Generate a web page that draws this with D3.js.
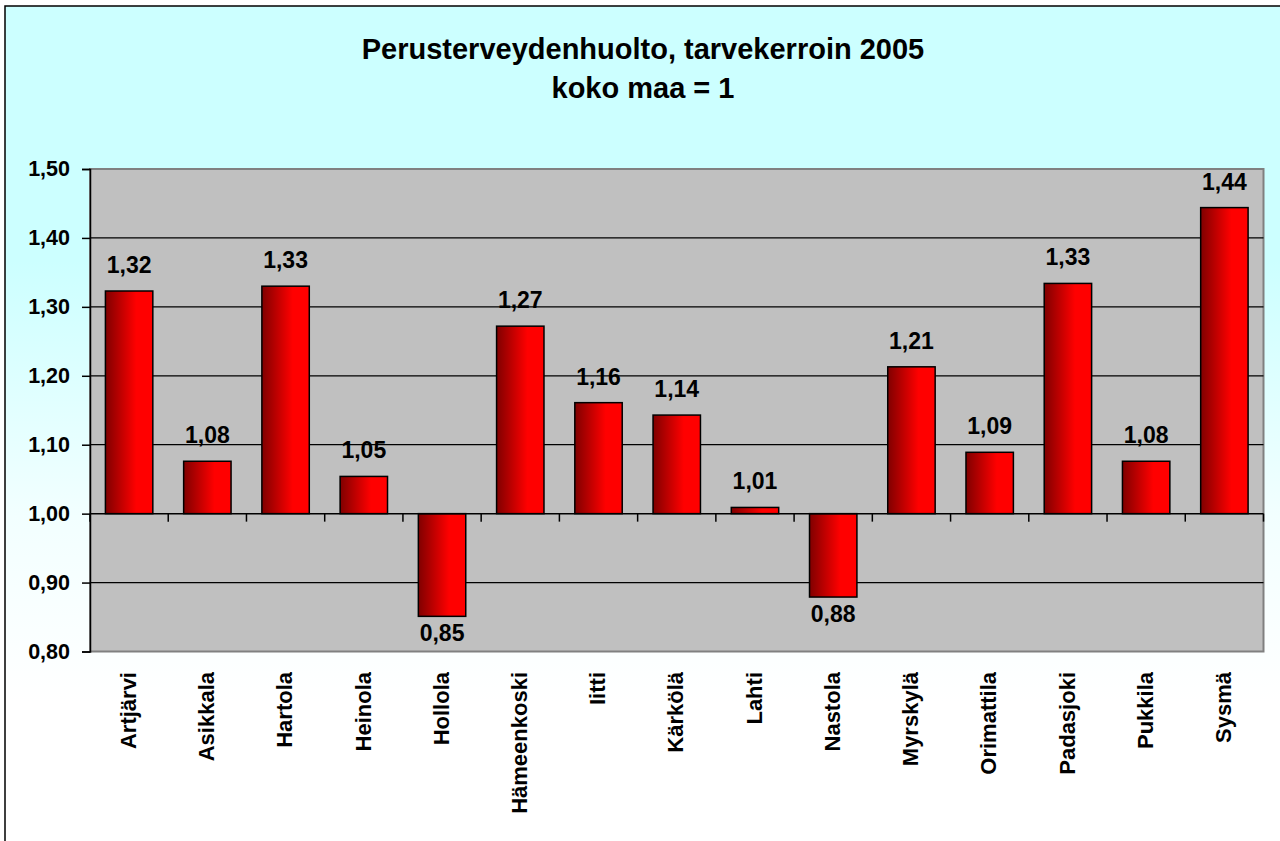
<!DOCTYPE html>
<html>
<head>
<meta charset="utf-8">
<script src="https://cdn.jsdelivr.net/npm/d3@7"></script>
<style>
html,body{margin:0;padding:0;background:#fff;}
svg{display:block;}
text{font-family:"Liberation Sans", Arial, sans-serif;font-weight:bold;fill:#000;}
</style>
</head>
<body>
<svg id="chart" width="1280" height="841"></svg>
<script>
const titleLines = ["Perusterveydenhuolto, tarvekerroin 2005", "koko maa = 1"];
const categories = ["Artjärvi","Asikkala","Hartola","Heinola","Hollola","Hämeenkoski","Iitti","Kärkölä","Lahti","Nastola","Myrskylä","Orimattila","Padasjoki","Pukkila","Sysmä"];
const values = [1.323, 1.076, 1.330, 1.054, 0.851, 1.272, 1.161, 1.143, 1.009, 0.879, 1.213, 1.089, 1.334, 1.076, 1.444];
const yTicks = [0.80, 0.90, 1.00, 1.10, 1.20, 1.30, 1.40, 1.50];
const baseline = 1.00;

(function(){
const svg = d3.select("#chart");
const defs = svg.append("defs");

const bg = defs.append("linearGradient").attr("id","bg").attr("x1",0).attr("y1",0).attr("x2",0).attr("y2",1);
bg.append("stop").attr("offset","0%").attr("stop-color","#CCFFFF");
bg.append("stop").attr("offset","30%").attr("stop-color","#CCFFFF");
bg.append("stop").attr("offset","60%").attr("stop-color","#F2FFFF");
bg.append("stop").attr("offset","82%").attr("stop-color","#FFFFFF");
bg.append("stop").attr("offset","100%").attr("stop-color","#FFFFFF");

const barG = defs.append("linearGradient").attr("id","barG").attr("x1",0).attr("y1",0).attr("x2",1).attr("y2",0);
barG.append("stop").attr("offset","0%").attr("stop-color","#800000");
barG.append("stop").attr("offset","65%").attr("stop-color","#FF0000");
barG.append("stop").attr("offset","100%").attr("stop-color","#FF0000");

// chart area
svg.append("rect").attr("x",5).attr("y",6).attr("width",1290).attr("height",850)
  .attr("fill","url(#bg)").attr("stroke","#000").attr("stroke-width",1.5);

// title
svg.append("text").attr("x",643).attr("y",59).attr("text-anchor","middle").style("font-size","29px").text(titleLines[0]);
svg.append("text").attr("x",643).attr("y",98).attr("text-anchor","middle").style("font-size","29px").text(titleLines[1]);

const pL = 90, pR = 1263.5, pT = 169, pB = 651.5;
const x = d3.scaleBand().domain(categories).range([pL, pR]).paddingInner(0.394).paddingOuter(0.197);
const y = d3.scaleLinear().domain([0.80, 1.50]).range([pB, pT]);

// plot area
svg.append("rect").attr("x",pL).attr("y",pT).attr("width",pR-pL).attr("height",pB-pT)
  .attr("fill","#C0C0C0").attr("stroke","#808080").attr("stroke-width",2);

// gridlines
svg.append("g").selectAll("line").data(yTicks.filter(t => t > 0.8 && t < 1.5 && t !== baseline)).join("line")
  .attr("x1",pL).attr("x2",pR).attr("y1",d=>y(d)).attr("y2",d=>y(d))
  .attr("stroke","#000").attr("stroke-width",1.2);

// y axis
const fmt = d => d3.format(".2f")(d).replace(".", ",");
const yAxis = svg.append("g").attr("transform",`translate(${pL},0)`)
  .call(d3.axisLeft(y).tickValues(yTicks).tickFormat(fmt).tickSize(8).tickPadding(12));
yAxis.select(".domain").attr("stroke","#000").attr("stroke-width",1.5);
yAxis.selectAll(".tick line").attr("stroke","#000").attr("stroke-width",1.5);
yAxis.selectAll(".tick text").style("font-size","21.5px").style("font-family","'Liberation Sans', Arial, sans-serif").style("font-weight","bold").attr("fill","#000");

// bars
svg.append("g").selectAll("rect").data(categories).join("rect")
  .attr("x",(d)=>x(d)).attr("width",x.bandwidth())
  .attr("y",(d,i)=>y(Math.max(values[i],baseline)))
  .attr("height",(d,i)=>Math.abs(y(values[i])-y(baseline)))
  .attr("fill","url(#barG)").attr("stroke","#000").attr("stroke-width",1.5);

// category axis at baseline
const step = x.step();
const bounds = d3.range(categories.length + 1).map(i => pL + i*step);
svg.append("line").attr("x1",pL).attr("x2",pR).attr("y1",y(baseline)).attr("y2",y(baseline))
  .attr("stroke","#000").attr("stroke-width",1.5);
svg.append("g").selectAll("line").data(bounds).join("line")
  .attr("x1",d=>d).attr("x2",d=>d).attr("y1",y(baseline)).attr("y2",y(baseline)+8)
  .attr("stroke","#000").attr("stroke-width",1.5);

// value labels
svg.append("g").selectAll("text").data(categories).join("text")
  .attr("x",d=>x(d)+x.bandwidth()/2)
  .attr("y",(d,i)=> values[i] >= baseline ? y(values[i]) - 18 : y(values[i]) + 25)
  .attr("text-anchor","middle").style("font-size","23px")
  .text((d,i)=>fmt(values[i]));

// category labels
svg.append("g").selectAll("text").data(categories).join("text")
  .attr("transform",d=>`translate(${x(d)+x.bandwidth()/2 - 1},672) rotate(-90)`)
  .attr("text-anchor","end").attr("dy","0.35em").style("font-size","22px")
  .text(d=>d);
})();
</script>
</body>
</html>
